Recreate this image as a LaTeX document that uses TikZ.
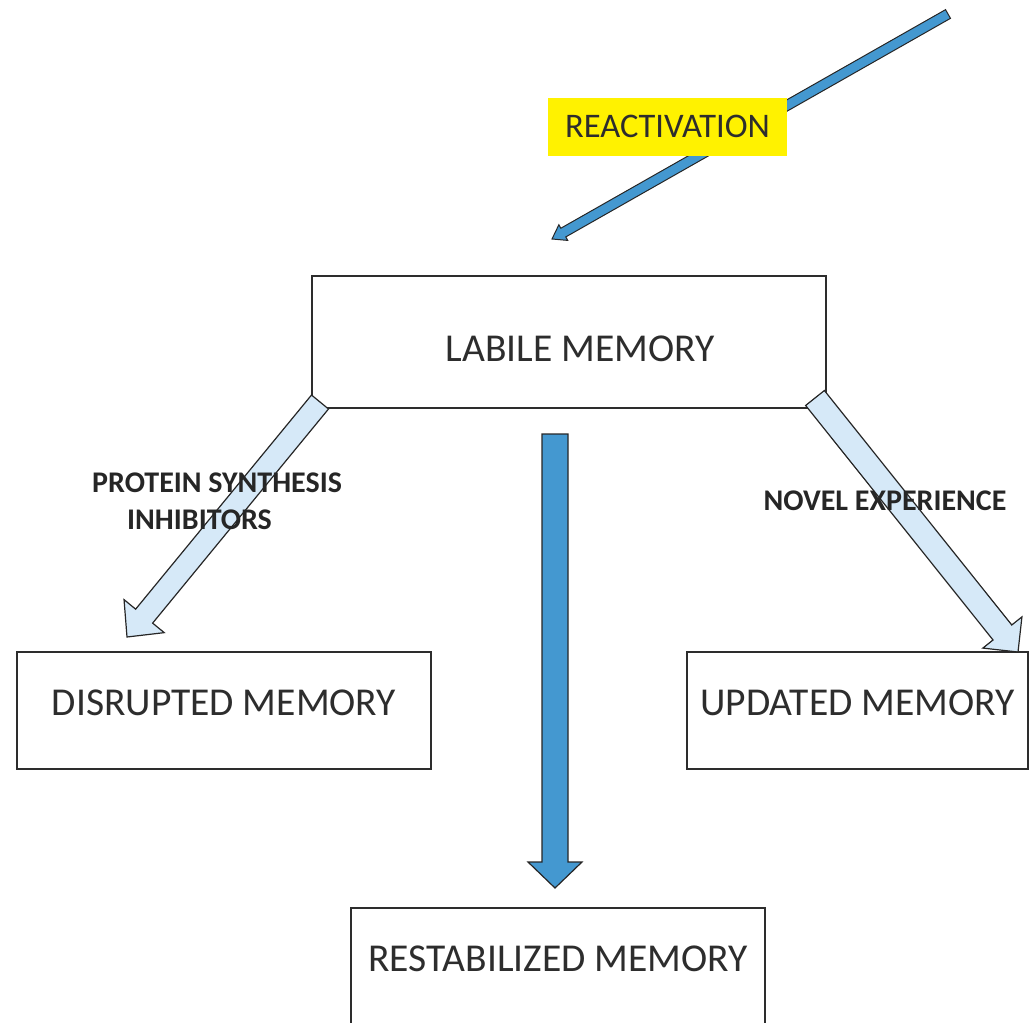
\documentclass[tikz,border=0pt]{standalone}
\usepackage{fontspec}
\setmainfont{Carlito}
\usetikzlibrary{calc}
\definecolor{darkblue}{RGB}{68,152,208}
\definecolor{lightblue}{RGB}{214,233,248}
\definecolor{hiyellow}{RGB}{255,242,0}
\definecolor{txtgray}{RGB}{45,45,45}
\newcommand\myblockarrow[6]{%
  \coordinate (tmpH) at ($(#3)!#6!(#2)$);
  \draw[#1] ($(#2)!#4!90:(#3)$) -- ($(tmpH)!#4!90:(#3)$) -- ($(tmpH)!#5!90:(#3)$)
    -- (#3) -- ($(tmpH)!#5!-90:(#3)$) -- ($(tmpH)!#4!-90:(#3)$) -- ($(#2)!#4!-90:(#3)$) -- cycle;
}
\tikzset{
  memorybox/.style={draw=txtgray, line width=1.3pt, fill=white, inner sep=0pt,
    text=txtgray, font=\fontsize{39.5}{44}\selectfont},
  boldlabel/.style={inner sep=0pt, text=black!85, font=\fontsize{30}{34}\selectfont\bfseries},
  darkarrow/.style={draw=black!85, line width=1.2pt, fill=darkblue, line join=miter},
  lightarrow/.style={draw=black!85, line width=1.2pt, fill=lightblue, line join=miter}
}
\begin{document}
\begin{tikzpicture}[x=1pt,y=-1pt]
\useasboundingbox (0,0) rectangle (1032,1022);
% boxes
\node[memorybox, minimum width=514pt, minimum height=132pt, text height=39pt, text depth=0pt]
  (labile) at (569,342) {\hspace*{22pt}LABILE MEMORY};
\node[memorybox, minimum width=414pt, minimum height=117pt, text height=25pt, text depth=15pt]
  (disrupted) at (224,710.5) {DISRUPTED MEMORY};
\node[memorybox, minimum width=341pt, minimum height=117pt, text height=25pt, text depth=15pt]
  (updated) at (857.5,710.5) {UPDATED MEMORY};
\node[memorybox, minimum width=414pt, minimum height=118pt, text height=25pt, text depth=16pt]
  (restab) at (558,967) {RESTABILIZED MEMORY};
% arrow end points
\coordinate (rTail) at (948,14);
\coordinate (rTip) at (552,239);
\coordinate (lTail) at (320,402);
\coordinate (lTip) at (127,637);
\coordinate (uTail) at (815,398);
\coordinate (uTip) at (1018,652);
\coordinate (cTail) at (555,434);
\coordinate (cTip) at (555,888);
% reactivation arrow and label
\myblockarrow{darkarrow, line width=1pt}{rTail}{rTip}{5pt}{9pt}{13pt}
\node[fill=hiyellow, inner sep=0pt, minimum width=239pt, minimum height=58pt,
  text height=23pt, text depth=2pt,
  text=txtgray, font=\fontsize{34.5}{38}\selectfont] (react) at (667.5,127) {REACTIVATION};
% branch arrows
\myblockarrow{lightarrow}{lTail}{lTip}{11pt}{26pt}{27pt}
\myblockarrow{lightarrow}{uTail}{uTip}{12pt}{25pt}{25pt}
\myblockarrow{darkarrow}{cTail}{cTip}{13pt}{27pt}{26pt}
% labels
\node[boldlabel, anchor=base west] (psi1) at (92,492) {PROTEIN SYNTHESIS};
\node[boldlabel, anchor=base west] (psi2) at (127,529) {INHIBITORS};
\node[boldlabel, anchor=base] (novel) at (885,510) {NOVEL EXPERIENCE};
\end{tikzpicture}
\end{document}
